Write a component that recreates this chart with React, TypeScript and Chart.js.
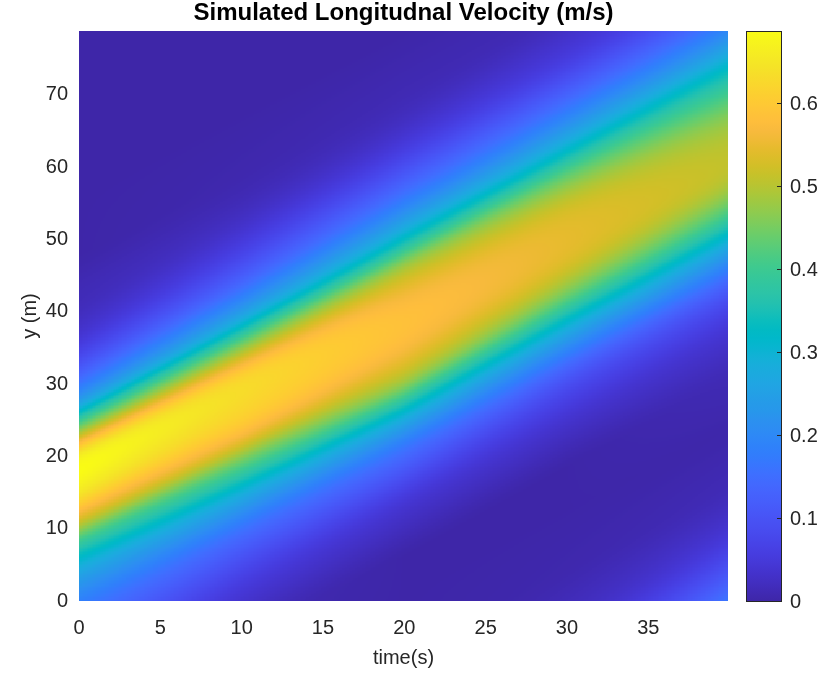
import React, { useEffect, useRef } from 'react';
import { Chart, registerables } from 'chart.js';

Chart.register(...registerables);

// ---------- text ----------
const TITLE = 'Simulated Longitudnal Velocity (m/s)';
const X_LABEL = 'time(s)';
const Y_LABEL = 'y (m)';

// ---------- axis ranges / ticks ----------
const timeMin = 0;
const timeMax = 39.9;
const yMin = 0;
const yMax = 78.8;
const colorMin = 0;
const colorMax = 0.687;
const timeTickStep = 5;
const yTickStep = 10;
const colorTickStep = 0.1;

// ---------- data ----------
// time instants (s) at which the velocity cross-sections were read
const timeKnots = [0, 10, 20, 30, 40];
// y (m) of the middle of the pulse at each time instant
const bandCenter = [15.8, 27.0, 38.3, 50.6, 62.4];
// offsets (m) from the pulse middle where the cross-sections were read
const profileOffsets = [-32, -28, -24, -20, -16, -12, -8, -4, 0, 4, 8, 12, 16, 20, 24, 28, 32];
// velocity (m/s) across the pulse at each time instant
const profileT0 = [0.03, 0.05, 0.09, 0.13, 0.18, 0.26, 0.38, 0.55, 0.665, 0.67, 0.46, 0.24, 0.12, 0.05, 0.02, 0.01, 0.0];
const profileT10 = [0.01, 0.03, 0.06, 0.11, 0.18, 0.29, 0.43, 0.57, 0.625, 0.615, 0.47, 0.28, 0.16, 0.085, 0.04, 0.015, 0.005];
const profileT20 = [0.0, 0.02, 0.05, 0.11, 0.19, 0.32, 0.48, 0.56, 0.585, 0.56, 0.48, 0.32, 0.2, 0.12, 0.06, 0.025, 0.01];
const profileT30 = [0.0, 0.02, 0.05, 0.1, 0.19, 0.315, 0.45, 0.53, 0.545, 0.52, 0.44, 0.31, 0.2, 0.12, 0.06, 0.03, 0.01];
const profileT40 = [0.01, 0.025, 0.05, 0.1, 0.19, 0.31, 0.43, 0.5, 0.505, 0.47, 0.4, 0.31, 0.21, 0.13, 0.07, 0.035, 0.015];
// a second, weaker pulse entering at the bottom right
const trailingCenter = [-61, -50, -39, -27.5, -16];
const trailingGain = [0, 0, 0, 0.45, 0.8];

// ---------- cell grid of the image ----------
const cellDt = 0.1;
const cellDy = 0.2;

// ---------- parula colormap (64 entries) ----------
const PARULA: number[][] = [
  [0.2422, 0.1504, 0.6603], [0.2504, 0.1650, 0.7076], [0.2578, 0.1818, 0.7511], [0.2647, 0.1978, 0.7952],
  [0.2706, 0.2147, 0.8364], [0.2751, 0.2342, 0.8710], [0.2783, 0.2559, 0.8991], [0.2803, 0.2782, 0.9221],
  [0.2813, 0.3006, 0.9414], [0.2810, 0.3228, 0.9579], [0.2795, 0.3447, 0.9717], [0.2760, 0.3667, 0.9829],
  [0.2699, 0.3892, 0.9906], [0.2602, 0.4123, 0.9952], [0.2440, 0.4358, 0.9988], [0.2206, 0.4603, 0.9973],
  [0.1963, 0.4847, 0.9892], [0.1834, 0.5074, 0.9798], [0.1786, 0.5289, 0.9682], [0.1764, 0.5499, 0.9520],
  [0.1687, 0.5703, 0.9359], [0.1540, 0.5902, 0.9218], [0.1460, 0.6091, 0.9079], [0.1380, 0.6276, 0.8973],
  [0.1248, 0.6459, 0.8883], [0.1113, 0.6635, 0.8763], [0.0952, 0.6798, 0.8598], [0.0689, 0.6948, 0.8394],
  [0.0297, 0.7082, 0.8163], [0.0036, 0.7203, 0.7917], [0.0067, 0.7312, 0.7660], [0.0433, 0.7411, 0.7394],
  [0.0964, 0.7500, 0.7120], [0.1408, 0.7584, 0.6842], [0.1717, 0.7670, 0.6554], [0.1938, 0.7758, 0.6251],
  [0.2161, 0.7843, 0.5923], [0.2470, 0.7918, 0.5567], [0.2906, 0.7973, 0.5188], [0.3406, 0.8008, 0.4789],
  [0.3909, 0.8029, 0.4354], [0.4456, 0.8024, 0.3909], [0.5044, 0.7993, 0.3480], [0.5616, 0.7942, 0.3045],
  [0.6174, 0.7876, 0.2612], [0.6720, 0.7793, 0.2227], [0.7242, 0.7698, 0.1910], [0.7738, 0.7598, 0.1646],
  [0.8203, 0.7498, 0.1535], [0.8634, 0.7406, 0.1596], [0.9035, 0.7330, 0.1774], [0.9393, 0.7288, 0.2100],
  [0.9728, 0.7298, 0.2394], [0.9956, 0.7434, 0.2371], [0.9970, 0.7659, 0.2199], [0.9952, 0.7893, 0.2028],
  [0.9892, 0.8136, 0.1885], [0.9786, 0.8386, 0.1766], [0.9676, 0.8639, 0.1643], [0.9610, 0.8890, 0.1537],
  [0.9597, 0.9135, 0.1423], [0.9628, 0.9373, 0.1265], [0.9691, 0.9606, 0.1064], [0.9769, 0.9839, 0.0805],
];

const FONT = "'Liberation Sans', Arial, Helvetica, sans-serif";
const TEXT = '#262626';

const profiles = [profileT0, profileT10, profileT20, profileT30, profileT40];

function lerp(a: number, b: number, f: number) {
  return a + (b - a) * f;
}

function sampleProfile(row: number[], o: number): number {
  const n = profileOffsets.length;
  const first = profileOffsets[0];
  const last = profileOffsets[n - 1];
  if (o <= first) return row[0] * Math.max(0, 1 - (first - o) / 8);
  if (o >= last) return row[n - 1] * Math.max(0, 1 - (o - last) / 8);
  for (let i = 0; i < n - 1; i++) {
    const a = profileOffsets[i];
    const b = profileOffsets[i + 1];
    if (o >= a && o <= b) {
      const f = (o - a) / (b - a);
      const p0 = row[Math.max(0, i - 1)];
      const p1 = row[i];
      const p2 = row[i + 1];
      const p3 = row[Math.min(n - 1, i + 2)];
      const f2 = f * f;
      const f3 = f2 * f;
      const v = 0.5 * (2 * p1 + (-p0 + p2) * f + (2 * p0 - 5 * p1 + 4 * p2 - p3) * f2 + (-p0 + 3 * p1 - 3 * p2 + p3) * f3);
      return Math.max(0, v);
    }
  }
  return 0;
}

function fieldValue(t: number, y: number): number {
  let k = 0;
  while (k < timeKnots.length - 2 && t > timeKnots[k + 1]) k++;
  const f = Math.min(1, Math.max(0, (t - timeKnots[k]) / (timeKnots[k + 1] - timeKnots[k])));
  const c = lerp(bandCenter[k], bandCenter[k + 1], f);
  const o = y - c;
  const v1 = lerp(sampleProfile(profiles[k], o), sampleProfile(profiles[k + 1], o), f);
  const c2 = lerp(trailingCenter[k], trailingCenter[k + 1], f);
  const g = lerp(trailingGain[k], trailingGain[k + 1], f);
  const o2 = y - c2;
  const v2 = g * lerp(sampleProfile(profiles[k], o2), sampleProfile(profiles[k + 1], o2), f);
  return v1 + v2;
}

function parulaAt(frac: number): [number, number, number] {
  const p = Math.min(1, Math.max(0, frac)) * (PARULA.length - 1);
  const i = Math.min(PARULA.length - 2, Math.floor(p));
  const f = p - i;
  const a = PARULA[i];
  const b = PARULA[i + 1];
  return [
    Math.round(lerp(a[0], b[0], f) * 255),
    Math.round(lerp(a[1], b[1], f) * 255),
    Math.round(lerp(a[2], b[2], f) * 255),
  ];
}

const heatmapPlugin = {
  id: 'heatmapCells',
  beforeDatasetsDraw(chart: any) {
    const { ctx, chartArea } = chart;
    const xs = chart.scales.x;
    const ys = chart.scales.y;
    ctx.save();
    ctx.beginPath();
    ctx.rect(chartArea.left, chartArea.top, chartArea.right - chartArea.left, chartArea.bottom - chartArea.top);
    ctx.clip();
    const nCols = Math.ceil((timeMax - timeMin) / cellDt - 1e-9);
    const nRows = Math.ceil((yMax - yMin) / cellDy - 1e-9);
    for (let i = 0; i < nCols; i++) {
      const t0 = timeMin + i * cellDt;
      const t1 = Math.min(timeMax, t0 + cellDt);
      const xa = Math.floor(xs.getPixelForValue(t0));
      const xb = Math.ceil(xs.getPixelForValue(t1));
      const tc = (t0 + t1) / 2;
      for (let j = 0; j < nRows; j++) {
        const y0 = yMin + j * cellDy;
        const y1 = Math.min(yMax, y0 + cellDy);
        const ya = Math.floor(ys.getPixelForValue(y1));
        const yb = Math.ceil(ys.getPixelForValue(y0));
        const v = fieldValue(tc, (y0 + y1) / 2);
        const [r, g, b] = parulaAt((v - colorMin) / (colorMax - colorMin));
        ctx.fillStyle = `rgb(${r},${g},${b})`;
        ctx.fillRect(xa, ya, xb - xa, yb - ya);
      }
    }
    ctx.restore();
  },
};

const colorbarPlugin = {
  id: 'colorbar',
  afterDraw(chart: any) {
    const { ctx, chartArea } = chart;
    const cb = chart.scales.cb;
    const left = Math.round(chartArea.right + 18);
    const width = 35;
    const top = Math.round(cb.getPixelForValue(colorMax));
    const bottom = Math.round(cb.getPixelForValue(colorMin));
    ctx.save();
    const grad = ctx.createLinearGradient(0, bottom, 0, top);
    PARULA.forEach((c, i) => {
      grad.addColorStop(i / (PARULA.length - 1), `rgb(${Math.round(c[0] * 255)},${Math.round(c[1] * 255)},${Math.round(c[2] * 255)})`);
    });
    ctx.fillStyle = grad;
    ctx.fillRect(left, top, width, bottom - top);
    ctx.strokeStyle = TEXT;
    ctx.lineWidth = 1;
    ctx.strokeRect(left + 0.5, top + 0.5, width, bottom - top);
    ctx.fillStyle = TEXT;
    ctx.font = `20px ${FONT}`;
    ctx.textAlign = 'left';
    ctx.textBaseline = 'middle';
    cb.ticks.forEach((tk: any) => {
      const yp = cb.getPixelForValue(tk.value);
      const py = Math.round(yp) + 0.5;
      ctx.beginPath();
      ctx.moveTo(left + width - 4, py);
      ctx.lineTo(left + width + 0.5, py);
      ctx.stroke();
      const label = Math.abs(tk.value) < 1e-9 ? '0' : Number(tk.value).toFixed(1);
      ctx.fillText(label, left + width + 9, yp + 1);
    });
    ctx.restore();
  },
};

export default function App() {
  const canvasRef = useRef<HTMLCanvasElement | null>(null);

  useEffect(() => {
    if (!canvasRef.current) return;
    const chart = new Chart(canvasRef.current, {
      type: 'scatter',
      data: { datasets: [{ data: [], showLine: false }] },
      options: {
        animation: false,
        responsive: false,
        devicePixelRatio: 1,
        layout: { padding: 0 },
        plugins: {
          legend: { display: false },
          tooltip: { enabled: false },
          title: { display: false },
        },
        scales: {
          x: {
            type: 'linear',
            position: 'bottom',
            min: timeMin,
            max: timeMax,
            grid: { display: false, drawTicks: false },
            border: { display: false },
            ticks: {
              stepSize: timeTickStep,
              includeBounds: false,
              maxRotation: 0,
              padding: 15,
              color: TEXT,
              font: { family: FONT, size: 20 },
            },
            title: {
              display: true,
              text: X_LABEL,
              color: TEXT,
              font: { family: FONT, size: 20 },
              padding: { top: 0, bottom: 7 },
            },
            afterFit: (s: any) => {
              s.height = 76;
            },
          },
          top: {
            type: 'linear',
            position: 'top',
            min: timeMin,
            max: timeMax,
            grid: { display: false, drawTicks: false },
            border: { display: false },
            ticks: { display: false },
            title: {
              display: true,
              text: TITLE,
              color: '#000',
              font: { family: FONT, size: 24, weight: 'bold', lineHeight: 1.1 },
              padding: { top: 0, bottom: 4 },
            },
            afterFit: (s: any) => {
              s.height = 31;
            },
          },
          y: {
            type: 'linear',
            position: 'left',
            min: yMin,
            max: yMax,
            grid: { display: false, drawTicks: false },
            border: { display: false },
            ticks: {
              stepSize: yTickStep,
              includeBounds: false,
              padding: 11,
              color: TEXT,
              font: { family: FONT, size: 20 },
            },
            title: {
              display: true,
              text: Y_LABEL,
              color: TEXT,
              font: { family: FONT, size: 20 },
              padding: { top: 18, bottom: 0 },
            },
            afterFit: (s: any) => {
              s.width = 79;
            },
          },
          cb: {
            type: 'linear',
            position: 'right',
            min: colorMin,
            max: colorMax,
            grid: { display: false, drawTicks: false },
            border: { display: false },
            ticks: {
              display: false,
              stepSize: colorTickStep,
              includeBounds: false,
            },
            afterFit: (s: any) => {
              s.width = 95;
            },
          },
        },
      } as any,
      plugins: [heatmapPlugin, colorbarPlugin],
    });
    return () => chart.destroy();
  }, []);

  return (
    <div style={{ position: 'absolute', left: 0, top: 0, width: 823, height: 677, background: '#fff' }}>
      <canvas ref={canvasRef} width={823} height={677} style={{ display: 'block', width: 823, height: 677 }} />
    </div>
  );
}
